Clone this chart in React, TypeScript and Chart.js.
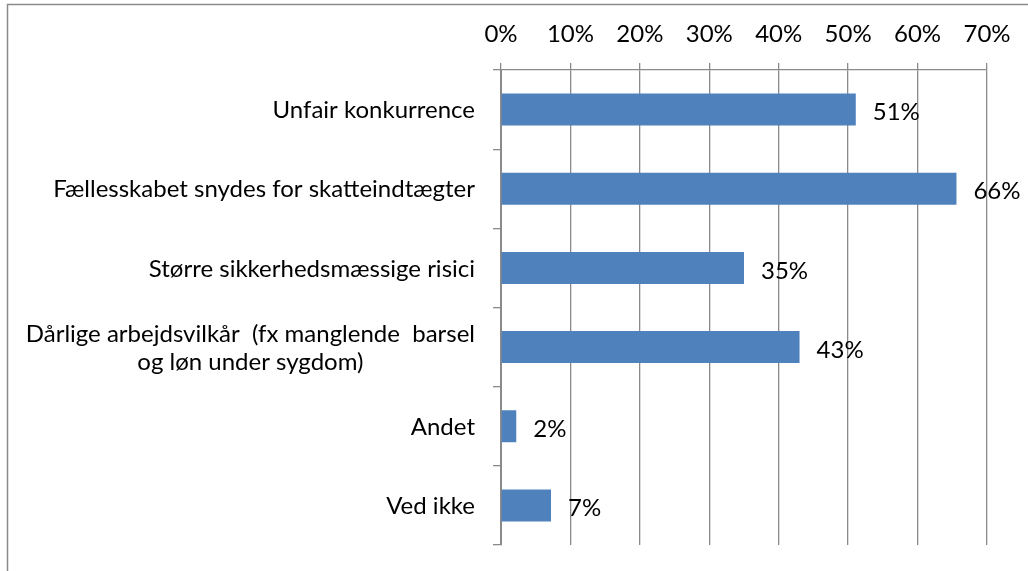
import React, { useEffect, useRef } from "react";
import { Chart, registerables } from "chart.js";

Chart.register(...registerables);

const categories: (string | string[])[] = [
  "Unfair konkurrence",
  "Fællesskabet snydes for skatteindtægter",
  "Større sikkerhedsmæssige risici",
  ["Dårlige arbejdsvilkår  (fx manglende  barsel", "og løn under sygdom)"],
  "Andet",
  "Ved ikke",
];
const values: number[] = [51.1, 65.6, 35, 43, 2.2, 7.2];
const xTicks: number[] = [0, 10, 20, 30, 40, 50, 60, 70];

const FONT_FAMILY = "Lato, 'Open Sans', sans-serif";
const FONT_SIZE = 24;
const GRAY = "#8a8a8a";
const BAR_COLOR = "#4f81bd";

const framePlugin = {
  id: "frame",
  beforeDraw(chart: any) {
    const ctx = chart.ctx;
    ctx.save();
    ctx.strokeStyle = GRAY;
    ctx.lineWidth = 1.5;
    ctx.strokeRect(7.5, 4.5, chart.width + 50, chart.height + 50);
    ctx.restore();
  },
};

const yLabelPlugin = {
  id: "yLabels",
  afterDraw(chart: any) {
    const ctx = chart.ctx;
    const yScale = chart.scales.y;
    const rightEdge = chart.chartArea.left - 26;
    const lineH = 28;
    ctx.save();
    ctx.font = `${FONT_SIZE}px ${FONT_FAMILY}`;
    ctx.fillStyle = "#000";
    ctx.textBaseline = "middle";
    ctx.textAlign = "center";
    categories.forEach((lab, i) => {
      const lines = Array.isArray(lab) ? lab : [lab];
      const maxW = Math.max(...lines.map((l) => ctx.measureText(l).width));
      const cx = rightEdge - maxW / 2;
      const cy = yScale.getPixelForValue(i) + 1;
      const startY = cy - ((lines.length - 1) * lineH) / 2;
      lines.forEach((l, k) => {
        ctx.fillText(l, cx, startY + k * lineH);
      });
    });
    ctx.restore();
  },
};

const dataLabelPlugin = {
  id: "dataLabels",
  afterDatasetsDraw(chart: any) {
    const ctx = chart.ctx;
    const meta = chart.getDatasetMeta(0);
    ctx.save();
    ctx.font = `${FONT_SIZE}px ${FONT_FAMILY}`;
    ctx.fillStyle = "#000";
    ctx.textBaseline = "middle";
    ctx.textAlign = "left";
    meta.data.forEach((bar: any, i: number) => {
      const v = values[i];
      ctx.fillText(Math.round(v) + "%", bar.x + 17, bar.y + 3);
    });
    ctx.restore();
  },
};

export default function App() {
  const canvasRef = useRef<HTMLCanvasElement | null>(null);

  useEffect(() => {
    if (!canvasRef.current) return;
    const chart = new Chart(canvasRef.current, {
      type: "bar",
      data: {
        labels: categories.map((c) => (Array.isArray(c) ? c.join(" ") : c)),
        datasets: [
          {
            data: values,
            backgroundColor: BAR_COLOR,
            borderWidth: 0,
            barPercentage: 0.404,
            categoryPercentage: 1,
          },
        ],
      },
      options: {
        indexAxis: "y",
        animation: false,
        responsive: true,
        maintainAspectRatio: false,
        layout: { padding: { left: 0, top: 0, right: 41, bottom: 26 } },
        plugins: {
          legend: { display: false },
          tooltip: { enabled: false },
          title: { display: false },
        },
        scales: {
          x: {
            position: "top",
            min: 0,
            max: 70,
            afterFit: (scale: any) => {
              scale.height = 70;
            },
            afterBuildTicks: (scale: any) => {
              scale.ticks = xTicks.map((v) => ({ value: v }));
            },
            ticks: {
              color: "#000",
              padding: 14,
              font: { family: FONT_FAMILY, size: FONT_SIZE },
              callback: (v: any) => v + "%",
            },
            grid: {
              color: GRAY,
              lineWidth: 1.3,
              tickLength: 7,
              drawOnChartArea: true,
            },
            border: { display: true, color: GRAY, width: 1.3 },
          },
          y: {
            afterFit: (scale: any) => {
              scale.width = 501;
            },
            ticks: { display: false },
            grid: {
              color: GRAY,
              lineWidth: 1.3,
              tickLength: 8,
              drawOnChartArea: false,
              offset: true,
            },
            border: { display: true, color: GRAY, width: 2 },
          },
        },
      },
      plugins: [framePlugin, yLabelPlugin, dataLabelPlugin],
    });
    return () => chart.destroy();
  }, []);

  return (
    <div
      style={{
        position: "absolute",
        left: 0,
        top: 0,
        width: "1028px",
        height: "571px",
        background: "#fff",
      }}
    >
      <canvas ref={canvasRef} />
    </div>
  );
}
